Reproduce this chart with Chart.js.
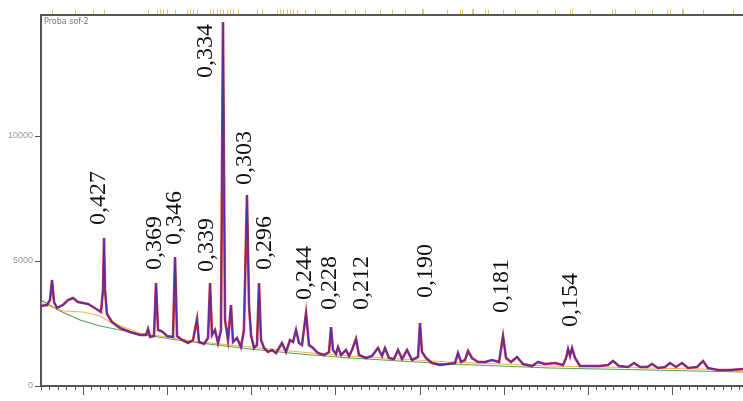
<!DOCTYPE html>
<html>
<head>
<meta charset="utf-8">
<script src="https://cdn.jsdelivr.net/npm/chart.js@4"></script>
<style>
  body { margin: 0; background: #fff; }
  #wrap { width: 743px; height: 401px; }
</style>
</head>
<body>
<div id="wrap"><canvas id="xrd"></canvas></div>
<script>
// 2-theta positions and intensities of the measured profile
const twoTheta = [5.00, 5.71, 6.07, 6.31, 6.55, 6.90, 7.61, 8.21, 8.80, 9.40, 9.99, 10.59, 11.18, 11.77, 12.13, 12.37, 12.49, 12.61, 12.84, 13.44,
  14.39, 15.58, 16.77, 17.48, 17.72, 17.95, 18.43, 18.67, 18.91, 19.26, 19.62, 19.98, 20.69, 20.93, 21.17, 21.76, 22.47, 23.07, 23.54, 23.78,
  24.37, 24.85, 25.09, 25.32, 25.68, 26.04, 26.39, 26.63, 26.87, 27.23, 27.58, 27.82, 28.29, 28.77, 29.12, 29.48, 29.72, 29.96, 30.32, 30.67,
  30.91, 31.15, 31.50, 31.98, 32.45, 32.93, 33.64, 34.12, 34.59, 34.95, 35.31, 35.66, 36.02, 36.50, 36.85, 37.33, 37.92, 38.63, 39.23, 39.47,
  39.70, 40.06, 40.30, 40.66, 41.25, 41.61, 41.96, 42.44, 42.79, 43.63, 44.34, 45.05, 45.53, 45.88, 46.36, 46.95, 47.43, 47.91, 48.50, 49.09,
  49.81, 50.04, 50.28, 50.76, 51.47, 52.42, 53.37, 54.20, 54.56, 54.92, 55.39, 55.75, 56.22, 56.94, 57.77, 58.60, 59.44, 59.91, 60.27, 60.86,
  61.57, 62.29, 63.36, 64.07, 64.90, 66.09, 67.04, 67.40, 67.64, 67.87, 68.11, 68.47, 69.06, 70.25, 71.44, 72.39, 72.98, 73.70, 74.77, 75.48,
  76.19, 77.03, 77.62, 78.33, 79.16, 79.76, 80.47, 81.18, 81.90, 82.97, 83.68, 84.27, 85.46, 86.89, 88.43];
const counts = [3200, 3240, 3440, 4240, 3360, 3120, 3240, 3440, 3520, 3360, 3320, 3280, 3160, 3040, 2960, 3840, 5920, 3840, 2880, 2560,
  2320, 2160, 2040, 2040, 2280, 1960, 2000, 4120, 2240, 2200, 2120, 2000, 1960, 5160, 2000, 1840, 1720, 1840, 2680, 1760,
  1680, 1920, 4120, 2040, 2240, 1720, 2240, 14560, 2640, 1840, 3240, 1760, 1920, 1560, 2240, 7640, 3240, 2040, 1520, 1640,
  4120, 1840, 1520, 1360, 1440, 1320, 1720, 1360, 1840, 1760, 2240, 1720, 1640, 2920, 1640, 1520, 1320, 1240, 1360, 2360,
  1440, 1280, 1560, 1240, 1440, 1200, 1440, 1880, 1240, 1120, 1200, 1520, 1200, 1520, 1120, 1080, 1440, 1080, 1440, 1040,
  1160, 2520, 1360, 1120, 920, 840, 880, 920, 1320, 960, 1040, 1400, 1120, 960, 960, 1040, 960, 2000, 1120, 960,
  1160, 880, 800, 960, 880, 920, 840, 1120, 1480, 1200, 1520, 1120, 800, 800, 800, 840, 1000, 800, 760, 920,
  760, 760, 880, 720, 760, 920, 760, 920, 720, 760, 1000, 720, 640, 640, 680];

// background curve
const bgTheta = [5.00, 7.26, 9.64, 12.01, 14.39, 16.77, 20.33, 23.90, 29.84, 35.78, 41.73, 47.67, 53.61, 59.55, 65.50, 71.44, 77.38, 88.43];
const bgCounts = [3440, 3000, 2640, 2400, 2240, 2080, 1880, 1720, 1480, 1280, 1120, 1000, 880, 800, 720, 680, 640, 560];

// phase contribution curve
const phTheta = [5.00, 7.61, 9.99, 12.01, 13.20, 16.77, 23.90, 29.84, 35.78, 41.73, 47.67, 53.61, 59.55, 65.50, 71.44, 77.38, 88.43];
const phCounts = [3320, 3000, 2960, 2800, 2560, 2120, 1760, 1560, 1360, 1200, 1080, 960, 880, 800, 760, 720, 640];

// d-spacing labels (nm), where they sit
const peakLabels = ['0,427', '0,369', '0,346', '0,339', '0,334', '0,303', '0,296', '0,244', '0,228', '0,212', '0,190', '0,181', '0,154'];
const labelTheta = [11.89, 18.55, 20.93, 24.73, 24.61, 29.25, 31.62, 36.38, 39.35, 43.15, 50.76, 59.79, 67.99];
const labelBase = [6440, 4640, 5640, 4560, 12320, 8040, 4640, 3440, 3040, 3040, 3520, 2920, 2360];

// reflection markers along the top
const markerTheta = [6.31, 9.04, 11.18, 12.49, 17.72, 18.79, 19.14, 19.50, 19.98, 20.93, 22.35, 22.71, 23.07, 23.54, 25.09, 25.44, 25.92,
  26.27, 26.63, 27.11, 27.46, 27.82, 28.41, 30.67, 31.27, 33.05, 33.41, 33.76, 34.24, 34.59, 34.95, 35.43, 36.38, 37.56, 39.35, 41.13,
  42.32, 43.51, 45.29, 46.72, 48.26, 50.28, 50.40, 53.25, 54.80, 55.04, 56.22, 56.34, 57.77, 58.13, 59.91, 61.33, 63.95, 66.09, 67.87,
  68.11, 70.25, 72.86, 73.22, 75.60, 77.62, 79.40, 79.76, 81.18, 81.30, 83.68, 87.24];

const yTicks = [0, 5000, 10000];

const pts = (xs, ys) => xs.map((x, i) => ({ x: x, y: ys[i] }));

const extras = {
  id: 'extras',
  afterDraw(chart) {
    const ctx = chart.ctx;
    const xs = chart.scales.x, ys = chart.scales.y;
    const a = chart.chartArea;
    ctx.save();
    // top frame line
    ctx.strokeStyle = '#555';
    ctx.lineWidth = 2;
    ctx.beginPath();
    ctx.moveTo(a.left, a.top);
    ctx.lineTo(a.right, a.top);
    ctx.stroke();
    // markers
    ctx.strokeStyle = 'rgba(225,170,60,0.7)';
    ctx.lineWidth = 1;
    markerTheta.forEach(t => {
      const px = Math.round(xs.getPixelForValue(t)) + 0.5;
      ctx.beginPath();
      ctx.moveTo(px, a.top - 6);
      ctx.lineTo(px, a.top - 1);
      ctx.stroke();
    });
    // x ticks, major and minor
    ctx.strokeStyle = '#555';
    for (let t = 5; t <= 88; t++) {
      const px = Math.round(xs.getPixelForValue(t)) + 0.5;
      const len = t % 10 === 0 ? 8 : 3;
      ctx.beginPath();
      ctx.moveTo(px, a.bottom + 1);
      ctx.lineTo(px, a.bottom + 1 + len);
      ctx.stroke();
    }
    // sample name
    ctx.fillStyle = '#777';
    ctx.font = '8px "DejaVu Sans", sans-serif';
    ctx.textAlign = 'left';
    ctx.textBaseline = 'top';
    ctx.fillText('Proba sof-2', a.left + 3, a.top + 3);
    // d-spacing labels
    ctx.fillStyle = '#111';
    ctx.font = '24px "Liberation Serif", serif';
    ctx.textBaseline = 'middle';
    peakLabels.forEach((txt, i) => {
      ctx.save();
      ctx.translate(xs.getPixelForValue(labelTheta[i]), ys.getPixelForValue(labelBase[i]));
      ctx.rotate(-Math.PI / 2);
      ctx.fillText(txt, 0, 0);
      ctx.restore();
    });
    ctx.restore();
  }
};

new Chart(document.getElementById('xrd'), {
  type: 'line',
  data: {
    datasets: [
      { label: 'background', data: pts(bgTheta, bgCounts), borderColor: '#5aa05a', borderWidth: 1.2, order: 4 },
      { label: 'phase', data: pts(phTheta, phCounts), borderColor: 'rgba(235,170,60,0.9)', borderWidth: 1.2, order: 3 },
      { label: 'observed', data: pts(twoTheta, counts), borderColor: 'rgba(195,30,45,0.9)', borderWidth: 2.6, order: 2 },
      { label: 'calculated', data: pts(twoTheta, counts), borderColor: 'rgba(55,45,200,0.8)', borderWidth: 1.4, order: 1 }
    ]
  },
  options: {
    responsive: true,
    maintainAspectRatio: false,
    animation: false,
    layout: { padding: { top: 15, right: 0, left: 0, bottom: 0 } },
    elements: { point: { radius: 0 }, line: { tension: 0 } },
    plugins: { legend: { display: false }, tooltip: { enabled: false } },
    scales: {
      x: {
        type: 'linear',
        min: 5,
        max: 88.43,
        grid: { display: false },
        border: { display: true, color: '#555', width: 2 },
        ticks: { display: false },
        afterFit: s => { s.height = 15; }
      },
      y: {
        min: 0,
        max: 14840,
        afterBuildTicks: s => { s.ticks = yTicks.map(v => ({ value: v })); },
        grid: { drawOnChartArea: false, color: '#555', tickLength: 6 },
        border: { display: true, color: '#555', width: 2 },
        ticks: { color: '#999', font: { size: 9 }, padding: 2, callback: v => String(v) },
        afterFit: s => { s.width = 41; }
      }
    }
  },
  plugins: [extras]
});
</script>
</body>
</html>
